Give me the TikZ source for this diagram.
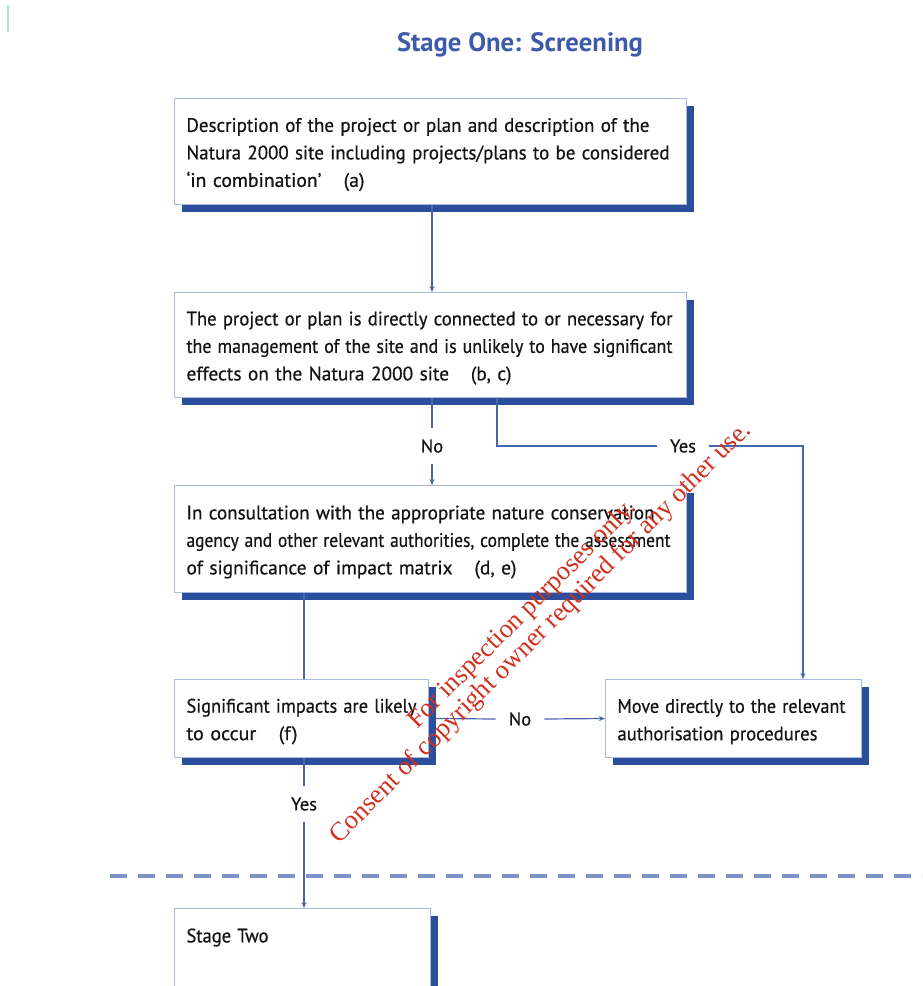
\documentclass[tikz,border=0pt]{standalone}
\usepackage{fontspec}
\usepackage{graphicx}
\setmainfont{PT Sans}
\newfontfamily\bodyfont{PT Sans}[FakeBold=0.6]
\newfontfamily\wmfont{Liberation Serif}
\usetikzlibrary{arrows.meta,shadows}
\definecolor{boxedge}{HTML}{A9B8DC}
\definecolor{shadowblue}{HTML}{2B4F9C}
\definecolor{linkblue}{HTML}{4866AE}
\definecolor{titleblue}{HTML}{3D5BA8}
\definecolor{dashblue}{HTML}{7B93C6}
\definecolor{tealline}{HTML}{B8E0DC}
\definecolor{wmred}{HTML}{D0301E}
\newcommand\fl[2]{\resizebox{#1pt}{\height}{#2}}
\newcommand\tstrut{\rule{0pt}{20pt}}
\begin{document}
\begin{tikzpicture}[x=1pt,y=-1pt,
  box/.style={draw=boxedge, line width=1pt, fill=white, anchor=north west,
    inner xsep=12pt, inner ysep=0pt, align=left, text=black!92,
    font=\bodyfont\fontsize{19.5}{27.5}\selectfont,
    drop shadow={shadow xshift=7pt, shadow yshift=-7pt, fill=shadowblue, opacity=1}},
  lbl/.style={font=\bodyfont\fontsize{18.5}{20}\selectfont, text=black!92, inner xsep=13pt, inner ysep=11pt},
  link/.style={draw=linkblue, line width=1.2pt},
  arr/.style={link, -{Stealth[length=6pt,width=5pt]}}
]
\useasboundingbox (0,0) rectangle (922,986);
\draw[tealline, line width=2pt] (8,5) -- (8,32);
\node[font=\fontsize{26.5}{30}\selectfont\bfseries, text=titleblue] (title) at (520,45) {\fl{246}{Stage One: Screening}};

\node[box, text width=488pt, minimum height=106pt] (a) at (174,98)
 {\tstrut\fl{463}{Description of the project or plan and description of the}\\
  \fl{483}{Natura 2000 site including projects/plans to be considered}\\
  \fl{178}{‘in combination’\hspace{22pt}(a)}};
\node[box, text width=488pt, minimum height=105pt] (b) at (174,292)
 {\tstrut\fl{486}{The project or plan is directly connected to or necessary for}\\
  \fl{486}{the management of the site and is unlikely to have significant}\\
  \fl{325}{effects on the Natura 2000 site\hspace{22pt}(b, c)}};
\node[box, text width=488pt, minimum height=107pt] (c) at (174,485)
 {\tstrut\fl{468}{In consultation with the appropriate nature conservation}\\
  \fl{484}{agency and other relevant authorities, complete the assessment}\\
  \fl{330}{of significance of impact matrix\hspace{22pt}(d, e)}};
\node[box, text width=230pt, minimum height=78pt] (d) at (174,679)
 {\tstrut\fl{230}{Significant impacts are likely}\\ \fl{111}{to occur\hspace{22pt}(f)}};
\node[box, text width=232pt, minimum height=78pt] (e) at (605,679)
 {\tstrut\fl{228}{Move directly to the relevant}\\ \fl{200}{authorisation procedures}};
\node[box, text width=232pt, minimum height=100pt, inner ysep=20pt, text depth=70pt] (f) at (174,908)
 {\fl{82}{Stage Two}};

% labels
\node[lbl] (no1) at (432,446) {No};
\node[lbl] (yes1) at (683,446) {Yes};
\node[lbl] (no2) at (520,719) {No};
\node[lbl] (yes2) at (304,804) {Yes};

\coordinate (bturn) at (497,446);
\coordinate (eturn) at (803,446);

\draw[arr] (a.south -| no1) -- (b.north -| no1);
\draw[link] (b.south -| no1) -- (no1.north);
\draw[arr] (no1.south) -- (c.north -| no1);
\draw[link] (b.south -| bturn) -- (bturn) -- (yes1.west);
\draw[arr] (yes1.east) -- (eturn) -- (e.north -| eturn);
\draw[link] (c.south -| yes2) -- (d.north -| yes2);
\draw[link] ([xshift=7pt]d.east) -- (no2.west);
\draw[arr] (no2.east) -- (e.west);
\draw[link] (d.south -| yes2) -- (yes2.north);
\draw[arr] (yes2.south) -- (f.north -| yes2);

\draw[dashblue, line width=3.5pt, dash pattern=on 17pt off 11pt] (110,876) -- (922,876);

\node[text=wmred, font=\wmfont\fontsize{26.5}{26}\selectfont, rotate=45, align=center] (wm) at (532,624)
 {For inspection purposes only.\\Consent of copyright owner required for any other use.};
\end{tikzpicture}
\end{document}
